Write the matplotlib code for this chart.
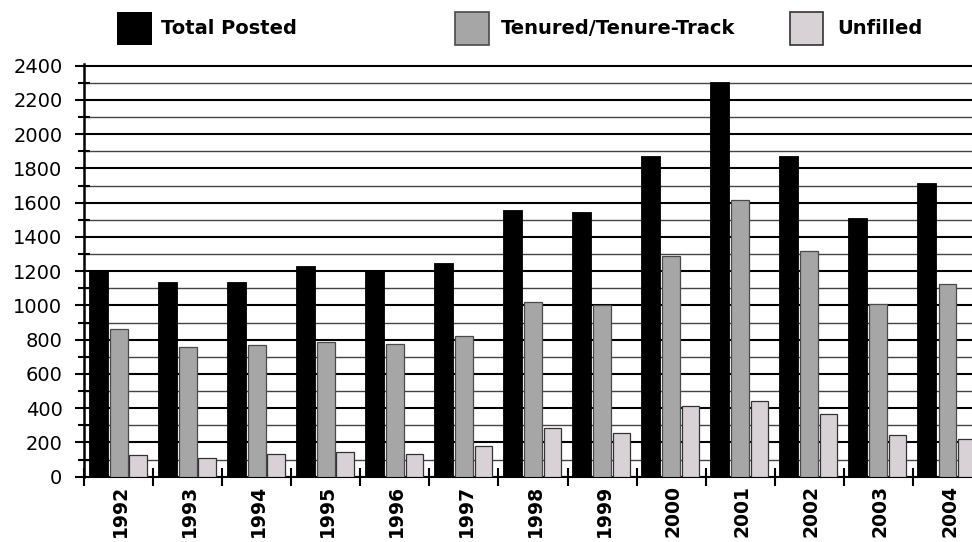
import numpy as np
import matplotlib
matplotlib.use("Agg")
import matplotlib.pyplot as plt
from matplotlib.patches import Rectangle

# values
years = ["1992", "1993", "1994", "1995", "1996", "1997", "1998",
         "1999", "2000", "2001", "2002", "2003", "2004"]
total_posted = [1200, 1135, 1135, 1230, 1205, 1245, 1555, 1545, 1870, 2305, 1870, 1510, 1715]
tenured = [862, 756, 769, 785, 773, 822, 1020, 1001, 1289, 1616, 1318, 1008, 1125]
unfilled = [128, 111, 131, 142, 131, 177, 286, 255, 413, 442, 366, 243, 220]

series_names = ["Total Posted", "Tenured/Tenure-Track", "Unfilled"]
BLACK, GRAY, LIGHT = "#000000", "#a6a6a6", "#d8d2d6"

W, H = 972, 542
fig = plt.figure(figsize=(W / 100, H / 100), dpi=100)

# axes placed in pixels; right edge runs past the figure like the original
x0, x1 = 84, 84 + 13 * 69.08
y_bot, y_top = 476.7, 476.7 - 2412 * 0.17125
ax = fig.add_axes([x0 / W, 1 - y_bot / H, (x1 - x0) / W, (y_bot - y_top) / H])

n = len(years)
x = np.arange(n)
ax.bar(x + 0.203, total_posted, width=0.275, color=BLACK, edgecolor=BLACK,
       linewidth=0.6, zorder=3)
ax.bar(x + 0.50, tenured, width=0.26, color=GRAY, edgecolor="#4a4a4a",
       linewidth=0.9, zorder=3)
ax.bar(x + 0.78, unfilled, width=0.25, color=LIGHT, edgecolor="#333333",
       linewidth=0.9, zorder=3)

ax.set_xlim(0, n)
ax.set_ylim(0, 2412)

# y axis: labelled major ticks every 200, minor every 100
ax.set_yticks(np.arange(0, 2401, 200))
ax.set_yticks(np.arange(100, 2400, 200), minor=True)
ax.tick_params(axis="y", which="major", direction="out", length=6.5, width=1.5,
               pad=9, labelsize=14)
ax.tick_params(axis="y", which="minor", direction="inout", length=8.6, width=1.5)
ax.grid(axis="y", which="major", color="black", linewidth=1.5, zorder=0)
ax.grid(axis="y", which="minor", color="#444444", linewidth=1.0, zorder=0)
ax.set_axisbelow(True)

# x axis: ticks on group boundaries, year labels at group centres
ax.set_xticks(np.arange(0, n + 1))
ax.set_xticklabels([])
ax.set_xticks(x + 0.53, minor=True)
ax.set_xticklabels(years, minor=True, rotation=90, fontsize=13.5,
                   fontweight="bold", va="top")
ax.tick_params(axis="x", which="major", direction="inout", length=13, width=1.5)
ax.tick_params(axis="x", which="minor", length=0, pad=6)

for s in ["top", "right"]:
    ax.spines[s].set_visible(False)
ax.spines["left"].set_linewidth(1.8)
ax.spines["bottom"].set_linewidth(1.5)

# legend row across the top
legend_items = [
    (117, 152, BLACK, "none", 161),
    (455, 489, GRAY, "#4a4a4a", 501),
    (790, 823, LIGHT, "#333333", 837),
]
for (lx0, lx1, fc, ec, tx), name in zip(legend_items, series_names):
    fig.add_artist(Rectangle((lx0 / W, 1 - 45 / H), (lx1 - lx0) / W, 33 / H,
                             transform=fig.transFigure, facecolor=fc,
                             edgecolor=ec, linewidth=1.2))
    fig.text(tx / W, 1 - 28.5 / H, name, fontsize=14, fontweight="bold",
             va="center", ha="left")

fig.savefig("out.png", dpi=100)
